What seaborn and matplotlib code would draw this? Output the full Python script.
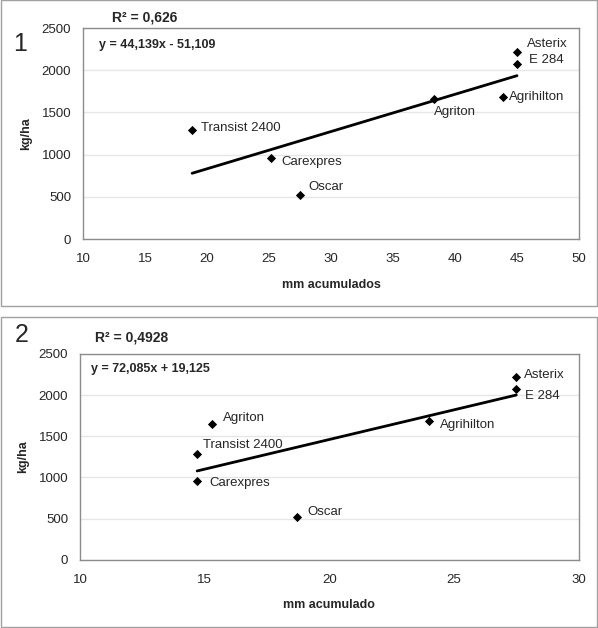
import numpy as np
import pandas as pd
import matplotlib
matplotlib.use("Agg")
import matplotlib.pyplot as plt
from matplotlib.patches import Rectangle
import seaborn as sns

# ── Data ─────────────────────────────────────────────────────────────────────
cultivares = ["Transist 2400", "Carexpres", "Oscar", "Agriton",
              "Agrihilton", "Asterix", "E 284"]
rendimiento = [1290, 960, 520, 1655, 1685, 2220, 2070]   # kg/ha
mm_acum_1 = [18.8, 25.2, 27.5, 38.3, 43.9, 45.0, 45.0]    # panel 1
mm_acum_2 = [14.7, 14.7, 18.7, 15.3, 24.0, 27.5, 27.5]    # panel 2

pendiente = [44.139, 72.085]
ordenada = [-51.109, 19.125]
ecuaciones = ["y = 44,139x - 51,109", "y = 72,085x + 19,125"]
r2_textos = ["R² = 0,626", "R² = 0,4928"]
xlabels = ["mm acumulados", "mm acumulado"]
xlims = [(10, 50), (10, 30)]
yticks = [0, 500, 1000, 1500, 2000, 2500]

# label offsets (pixels, dx right, dy up)
offsets_1 = {"Transist 2400": (9, 2), "Carexpres": (10, -4), "Oscar": (8, 8),
             "Agriton": (0, -13), "Agrihilton": (6, 0), "Asterix": (10, 8),
             "E 284": (12, 4)}
offsets_2 = {"Transist 2400": (6, 9), "Carexpres": (12, -2), "Oscar": (10, 5),
             "Agriton": (11, 6), "Agrihilton": (11, -4), "Asterix": (8, 2),
             "E 284": (9, -7)}

# ── Style ────────────────────────────────────────────────────────────────────
sns.set_style("white")
plt.rcParams["font.family"] = ["Liberation Sans", "DejaVu Sans"]
GRID = "#e6e6e6"
SPINE = "#8c8c8c"
W, H = 598, 628

fig = plt.figure(figsize=(W / 100, H / 100), dpi=100)


def px_axes(left, top, right, bottom):
    return fig.add_axes([left / W, 1 - bottom / H, (right - left) / W, (bottom - top) / H])


axes = [px_axes(83, 28, 579, 239), px_axes(80, 354, 578.6, 559.7)]
mm_list = [mm_acum_1, mm_acum_2]
off_list = [offsets_1, offsets_2]
r2_pos = [(0.125, 1.052), (0.104, 1.078)]
eq_pos = [(0.032, 0.919), (0.023, 0.927)]

for i, ax in enumerate(axes):
    df = pd.DataFrame({"mm": mm_list[i], "kg": rendimiento, "cv": cultivares})

    sns.scatterplot(data=df, x="mm", y="kg", marker="D", s=22, color="black",
                    linewidth=0, ax=ax, zorder=3)

    xs = np.array([df["mm"].min(), df["mm"].max()])
    sns.lineplot(x=xs, y=pendiente[i] * xs + ordenada[i], color="black",
                 linewidth=2, ax=ax, zorder=2)

    for _, row in df.iterrows():
        dx, dy = off_list[i][row["cv"]]
        ax.annotate(row["cv"], (row["mm"], row["kg"]), xytext=(dx, dy),
                    textcoords="offset pixels", ha="left", va="center",
                    fontsize=9.5)

    ax.set_xlim(*xlims[i])
    ax.set_ylim(0, 2500)
    ax.set_xticks(np.arange(xlims[i][0], xlims[i][1] + 1, 5))
    ax.set_yticks(yticks)
    ax.yaxis.grid(True, color=GRID, linewidth=1)
    ax.set_axisbelow(True)
    for s in ax.spines.values():
        s.set_color(SPINE)
        s.set_linewidth(1)
    ax.tick_params(axis="both", which="major", direction="out", length=3,
                   color=SPINE, labelsize=9.5, width=1)
    ax.tick_params(axis="x", pad=7)
    ax.tick_params(axis="y", pad=5.5)
    ax.set_xlabel(xlabels[i], fontsize=9, fontweight="bold", labelpad=10)
    ax.set_ylabel("kg/ha", fontsize=9, fontweight="bold", labelpad=7)

    ax.text(*r2_pos[i], r2_textos[i], transform=ax.transAxes, ha="center",
            va="center", fontsize=10, fontweight="bold")
    ax.text(*eq_pos[i], ecuaciones[i], transform=ax.transAxes, ha="left",
            va="center", fontsize=9, fontweight="bold")

# panel numbers and frames
fig.text(20 / W, 1 - 44 / H, "1", fontsize=18, ha="center", va="center")
fig.text(22 / W, 1 - 335 / H, "2", fontsize=18, ha="center", va="center")
for top, bottom in [(0.5, 305.5), (317, 627)]:
    fig.patches.append(Rectangle((0.5 / W, 1 - bottom / H), 596.5 / W,
                                 (bottom - top) / H, transform=fig.transFigure,
                                 fill=False, edgecolor="#a0a0a0", linewidth=1))

fig.savefig("out.png", dpi=100)
